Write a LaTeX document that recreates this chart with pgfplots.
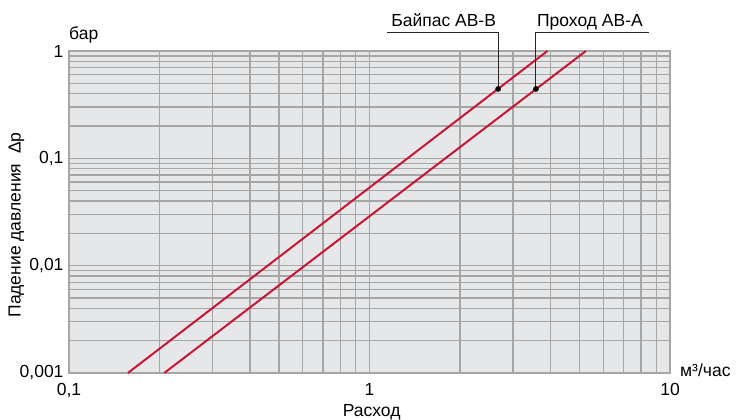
\documentclass[border=0pt]{standalone}
\usepackage{fontspec}
\setmainfont{Liberation Sans}
\usepackage{pgfplots}
\pgfplotsset{compat=1.18}
\definecolor{bgc}{RGB}{230,231,232}
\definecolor{gridc}{RGB}{166,166,166}
\definecolor{redl}{RGB}{200,22,52}
\newcommand{\fs}{\fontsize{17.5bp}{21bp}\selectfont}
\begin{document}
\begin{tikzpicture}
\begin{axis}[
  xmode=log, ymode=log,
  scale only axis, width=601bp, height=322bp,
  at={(69bp,47bp)}, anchor=south west,
  xmin=0.1, xmax=10, ymin=0.001, ymax=1,
  axis background/.style={fill=bgc},
  grid=both,
  major grid style={draw=gridc, line width=1.3bp},
  minor grid style={draw=gridc, line width=1.3bp},
  axis line style={draw=gridc, line width=1.3bp},
  major tick length=0pt, minor tick length=0pt,
  xtick={0.1,1,10}, xticklabels={{0,1},{1},{10}},
  ytick={0.001,0.01,0.1,1}, yticklabels={{0,001},{0,01},{0,1},{1}},
  ticklabel style={font=\fs},
  xticklabel style={anchor=north, yshift=-7bp},
  yticklabel style={anchor=east, xshift=-2bp},
  clip=false,
]
\addplot[redl, line width=2bp] coordinates {(0.157,0.001) (3.91,1)};
\addplot[redl, line width=2bp] coordinates {(0.2075,0.001) (5.25,1)};
\addplot[black!85, line width=1bp] coordinates {(1.143,1.5) (2.68,1.5) (2.68,0.443)};
\addplot[black!85, line width=1bp] coordinates {(8.51,1.5) (3.58,1.5) (3.58,0.443)};
\addplot[only marks, mark=*, mark size=2.6bp, black] coordinates {(2.68,0.443) (3.58,0.443)};
\node[anchor=base east, inner sep=0pt, font=\fs] at (axis cs:2.68,1.5) [yshift=6bp, xshift=-2bp] {Байпас AB-B};
\node[anchor=base west, inner sep=0pt, font=\fs] at (axis cs:3.58,1.5) [yshift=6bp, xshift=1bp] {Проход AB-A};
\end{axis}
\node[anchor=base west, inner sep=0pt, font=\fs] at (69bp,380.5bp) {бар};
\node[anchor=base west, inner sep=0pt, font=\fs] at (680bp,43.3bp) {м³/час};
\node[anchor=base, inner sep=0pt, font=\fs] at (371.7bp,3.5bp) {Расход};
\node[anchor=base, inner sep=0pt, font=\fs, rotate=90] at (20.7bp,195bp) {Падение давления\ \ Δp};
\pgfresetboundingbox
\path[use as bounding box] (0,0) rectangle (738bp,420bp);
\end{tikzpicture}
\end{document}
